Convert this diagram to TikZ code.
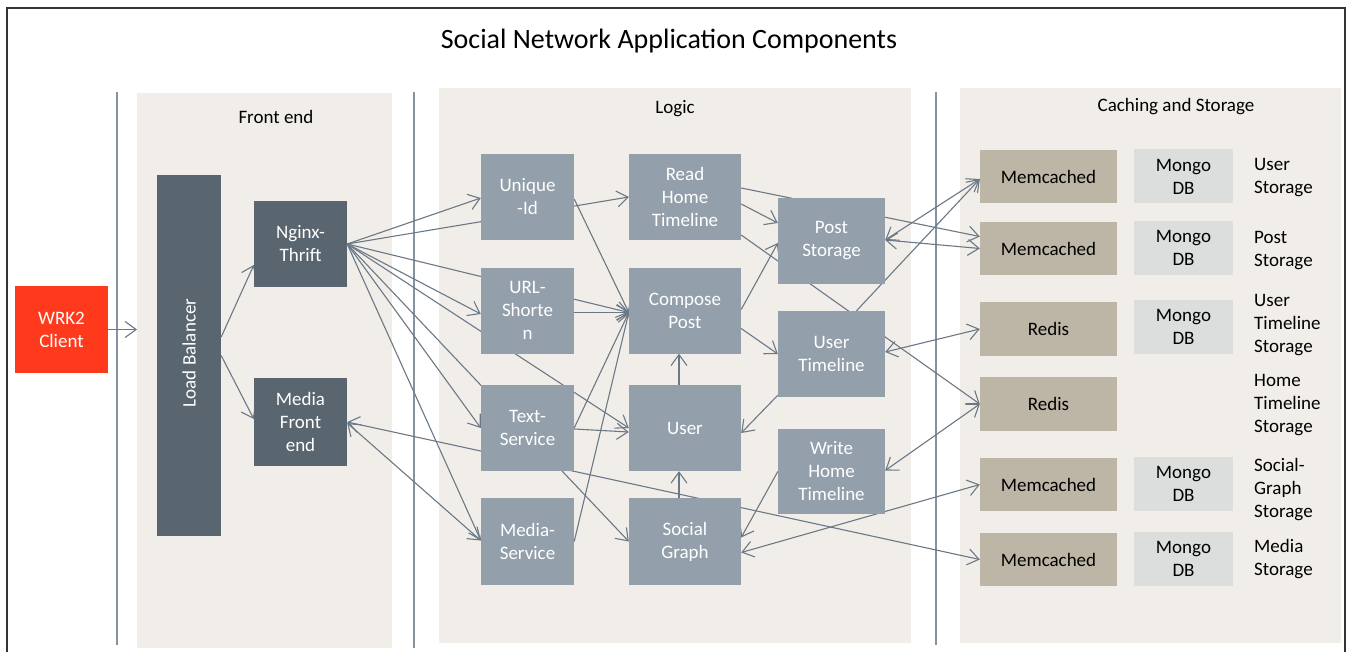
\documentclass[tikz,border=0pt]{standalone}
\usepackage{fontspec}
\setmainfont{Carlito}
\usetikzlibrary{arrows.meta,calc}
\pgfdeclarelayer{bg}\pgfdeclarelayer{edges}\pgfsetlayers{bg,edges,main}
\definecolor{panel}{HTML}{F1EEEA}
\definecolor{darkn}{HTML}{59656F}
\definecolor{lightn}{HTML}{939FAA}
\definecolor{memc}{HTML}{BDB5A5}
\definecolor{mongo}{HTML}{DCDDDD}
\definecolor{wrkc}{HTML}{FF3A1C}
\definecolor{linec}{HTML}{6B7885}
\definecolor{vline}{HTML}{8593A0}
\definecolor{frame}{HTML}{333333}
\newcommand\myfnt{\fontsize{19}{23}\selectfont}
\begin{document}
\begin{tikzpicture}[x=1pt,y=-1pt,
  box/.style={inner sep=0pt, align=center, text=white, font=\myfnt},
  sz/.style 2 args={minimum width=#1pt, minimum height=#2pt},
  dk/.style={box, fill=darkn, sz={93}{86}},
  lt/.style={box, fill=lightn, sz={93}{86}},
  ltw/.style={box, fill=lightn, sz={112}{86}},
  lts/.style={box, fill=lightn, sz={107}{86}},
  mc/.style={box, fill=memc, text=black, sz={137}{53}},
  mg/.style={box, fill=mongo, text=black, sz={99}{54}},
  pan/.style={inner sep=0pt, fill=panel, anchor=north west},
  ptitle/.style={inner sep=0pt, font=\myfnt},
  lbl/.style={anchor=west, align=left, inner sep=0pt, font=\myfnt},
  arr/.style={draw=linec, line width=1.1pt, -{Straight Barb[length=11pt,width=16pt]}},
  barr/.style={draw=linec, line width=1.1pt, {Straight Barb[length=11pt,width=16pt]}-{Straight Barb[length=11pt,width=16pt]}},
  vl/.style={draw=vline, line width=1.4pt}
]
\useasboundingbox (0,0) rectangle (1348,652);

% panels
\begin{pgfonlayer}{bg}
\fill[white] (0,0) rectangle (1348,652);
\node[pan, sz={255}{555}] (fe) at (137,93) {};
\node[pan, sz={472}{555}] (lg) at (439,88) {};
\node[pan, sz={381}{555}] (cs) at (960,88) {};
\draw[vl] (117,92) -- (117,645);
\draw[vl] (414,92) -- (414,648);
\draw[vl] (936,92) -- (936,645);
\end{pgfonlayer}
\draw[frame, line width=2pt] (7,653) -- (7,8) -- (1345,8) -- (1345,653);

% titles
\node[inner sep=0pt, font=\fontsize{28}{32}\selectfont] (title) at (669,41) {Social Network Application Components};
\node[ptitle] (tfe) at (276,117) {Front end};
\node[ptitle] (tlg) at (675,109) {Logic};
\node[ptitle] (tcs) at (1176,107) {Caching and Storage};

% front end
\node[box, fill=wrkc, sz={93}{87}] (wrk) at (61.5,329.5) {WRK2\\Client};
\node[box, fill=darkn, sz={64}{361}] (lb) at (189,355.5) {};
\node[box, rotate=90] (lbt) at (189,353) {Load Balancer};
\node[dk] (ngx) at (300.5,244) {Nginx-\\Thrift};
\node[dk, sz={93}{88}] (mfe) at (300.5,422) {Media\\Front\\end};

% logic
\node[lt] (uid) at (527.5,197) {Unique\\-Id};
\node[lt] (url) at (527.5,310.5) {URL-\\Shorte\\n};
\node[lt] (txt) at (527.5,428) {Text-\\Service};
\node[lt, sz={93}{87}] (med) at (527.5,541.5) {Media-\\Service};
\node[ltw] (rht) at (685,197) {Read\\Home\\Timeline};
\node[ltw] (cmp) at (685,310.5) {Compose\\Post};
\node[ltw] (usr) at (685,428) {User};
\node[ltw, sz={112}{87}] (sg) at (685,541.5) {Social\\Graph};
\node[lts] (ps) at (831.5,241) {Post\\Storage};
\node[lts] (ut) at (831.5,354) {User\\Timeline};
\node[lts, sz={107}{85}] (wht) at (831.5,471.5) {Write\\Home\\Timeline};

% caching and storage
\node[mc] (mc1) at (1048.5,177) {Memcached};
\node[mg] (mg1) at (1183.5,176.5) {Mongo\\DB};
\node[mc] (mc2) at (1048.5,248.5) {Memcached};
\node[mg] (mg2) at (1183.5,248) {Mongo\\DB};
\node[mc, sz={137}{54}] (rd1) at (1048.5,329) {Redis};
\node[mg] (mg3) at (1183.5,327) {Mongo\\DB};
\node[mc, sz={137}{54}] (rd2) at (1048.5,404) {Redis};
\node[mc] (mc3) at (1048.5,484.5) {Memcached};
\node[mg] (mg5) at (1183.5,484) {Mongo\\DB};
\node[mc] (mc4) at (1048.5,559.5) {Memcached};
\node[mg] (mg6) at (1183.5,559) {Mongo\\DB};

\node[lbl] (l1) at (1254,177.5) {User\\Storage};
\node[lbl] (l2) at (1254,251) {Post\\Storage};
\node[lbl] (l3) at (1254,325.5) {User\\Timeline\\Storage};
\node[lbl] (l4) at (1254,405.5) {Home\\Timeline\\Storage};
\node[lbl] (l5) at (1254,489.5) {Social-\\Graph\\Storage};
\node[lbl] (l6) at (1254,559.5) {Media\\Storage};

% connectors
\begin{pgfonlayer}{edges}
\draw[arr] (wrk.east) -- (wrk.east -| fe.west);
\draw[arr] ($(lb.east)+(0,-18.5)$) -- ($(ngx.west)+(0,21)$);
\draw[arr] (lb.east) -- ($(mfe.west)+(0,-3)$);
% nginx fan-out
\draw[arr] (ngx.east) -- ($(uid.west)+(0,1)$);
\draw[arr] (ngx.east) -- (rht.west);
\draw[arr] (ngx.east) -- ($(url.west)+(0,3.5)$);
\draw[arr] (ngx.east) -- ($(cmp.west)+(0,2)$);
\draw[arr] (ngx.east) -- (usr.west);
\draw[arr] (ngx.east) -- (txt.west);
\draw[arr] (ngx.east) -- ($(med.west)+(0,-1)$);
\draw[arr] (ngx.east) -- (sg.west);
% media front end
\draw[barr] ($(mfe.east)+(0,1)$) -- ($(med.west)+(0,-1)$);
\draw[barr] (mfe.east) -- (mc4.west);
% logic
\draw[arr] ($(uid.east)+(0,2)$) -- ($(cmp.west)+(0,2)$);
\draw[arr] ($(url.east)+(0,2)$) -- ($(cmp.west)+(0,2)$);
\draw[arr] (txt.east) -- ($(cmp.west)+(0,2)$);
\draw[arr] ($(txt.east)+(0,1)$) -- ($(usr.west)+(0,4)$);
\draw[arr] (med.east) -- ($(cmp.west)+(0,2)$);
\draw[arr] ($(usr.north)+(-6,0)$) -- ($(cmp.south)+(-6,0)$);
\draw[arr] ($(sg.north)+(-6,0)$) -- ($(usr.south)+(-6,0)$);
\draw[arr] ($(rht.east)+(0,7)$) -- ($(ps.west)+(0,-18)$);
\draw[arr] ($(rht.east)+(0,-9)$) -- ($(mc2.west)+(0,-12)$);
\draw[arr] ($(rht.east)+(0,38)$) -- (rd2.west);
\draw[arr] ($(cmp.east)+(0,-1)$) -- ($(ps.west)+(0,2)$);
\draw[arr] ($(cmp.east)+(0,18)$) -- (ut.west);
\draw[barr] ($(ps.east)+(0,-1)$) -- ($(mc1.west)+(0,2)$);
\draw[barr] ($(ps.east)+(0,-1)$) -- (mc2.west);
\draw[arr] ($(ut.north)+(25,0)$) -- ($(mc1.west)+(0,2)$);
\draw[barr] ($(ut.east)+(0,-2)$) -- (rd1.west);
\draw[arr] ($(ut.south west)+(0,-2)$) -- ($(usr.east)+(0,5)$);
\draw[barr] ($(wht.east)+(0,-1)$) -- (rd2.west);
\draw[arr] (wht.west) -- ($(sg.east)+(0,-4)$);
\draw[barr] ($(sg.east)+(0,11)$) -- (mc3.west);
\end{pgfonlayer}
\end{tikzpicture}
\end{document}
